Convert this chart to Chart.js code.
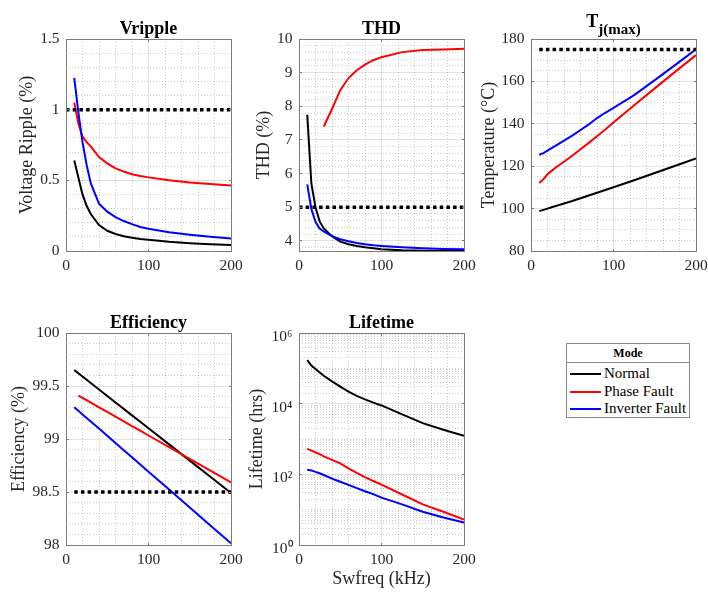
<!DOCTYPE html>
<html>
<head>
<meta charset="utf-8">
<title>Switching frequency study</title>
<script src="https://cdn.jsdelivr.net/npm/chart.js@4.4.1/dist/chart.umd.min.js"></script>
<style>
  html, body { margin: 0; padding: 0; background: #fff; overflow: hidden; }
  #page { position: relative; width: 708px; height: 592px; overflow: hidden; background: #fff; }
  #page canvas { position: absolute; }
  #legend {
    position: absolute; left: 566px; top: 343px; width: 122px; height: 73px;
    border: 1px solid #8a8a8a; background: #fff;
    font-family: 'Liberation Serif', 'Times New Roman', serif; color: #000;
  }
  #legend .head {
    height: 18px; line-height: 18px; text-align: center; font-weight: bold; font-size: 12px;
    border-bottom: 1px solid #8a8a8a;
  }
  #legend .items { padding-top: 2px; }
  #legend .item { height: 17.5px; line-height: 17.5px; font-size: 15px; white-space: nowrap; position: relative; padding-left: 37px; }
  #legend .swatch { position: absolute; left: 3px; top: 8px; width: 31px; height: 2px; }
</style>
</head>
<body>
<div id="page">
  <canvas id="cVripple"></canvas>
  <canvas id="cThd"></canvas>
  <canvas id="cTj"></canvas>
  <canvas id="cEff"></canvas>
  <canvas id="cLife"></canvas>
  <div id="legend"></div>
</div>
<script>
// ---- data ----
const swfreq = [10, 15, 20, 25, 30, 40, 50, 60, 70, 80, 90, 100, 125, 150, 175, 200];
const modes = ['Normal', 'Phase Fault', 'Inverter Fault'];
const modeColors = ['#000000', '#ff0000', '#0000ff'];

// Voltage ripple (%)
const vrippleNormal   = [0.64, 0.52, 0.40, 0.32, 0.262, 0.183, 0.143, 0.120, 0.104, 0.094, 0.085, 0.079, 0.065, 0.055, 0.048, 0.042];
const vripplePhase    = [1.05, 0.90, 0.81, 0.77, 0.74, 0.665, 0.62, 0.585, 0.562, 0.543, 0.530, 0.521, 0.500, 0.485, 0.474, 0.463];
const vrippleInverter = [1.225, 0.98, 0.77, 0.61, 0.48, 0.335, 0.278, 0.240, 0.212, 0.190, 0.170, 0.157, 0.132, 0.115, 0.101, 0.089];
const vrippleLimit = 1;

// THD (%)
const thdNormal   = [7.75, 5.70, 5.00, 4.58, 4.37, 4.14, 3.98, 3.90, 3.85, 3.81, 3.78, 3.75, 3.72, 3.71, 3.70, 3.70];
const thdPhase    = [null, null, null, null, 7.40, 7.92, 8.48, 8.84, 9.07, 9.24, 9.37, 9.46, 9.61, 9.67, 9.69, 9.71];
const thdInverter = [5.68, 4.95, 4.57, 4.37, 4.28, 4.14, 4.05, 3.99, 3.94, 3.90, 3.87, 3.85, 3.81, 3.78, 3.76, 3.75];
const thdLimit = 5;

// Maximum junction temperature (°C)
const tjNormal   = [98.8, 99.4, 100.0, 100.6, 101.2, 102.4, 103.6, 104.9, 106.2, 107.5, 108.8, 110.1, 113.4, 116.8, 120.2, 123.7];
const tjPhase    = [112.1, 113.8, 116.2, 117.8, 119.4, 122.1, 124.9, 128.0, 131.0, 134.1, 137.3, 140.6, 148.7, 156.7, 164.6, 172.4];
const tjInverter = [125.4, 126.2, 127.3, 128.5, 129.7, 132.1, 134.4, 137.1, 139.7, 142.7, 145.2, 147.5, 153.5, 160.6, 167.8, 175.2];
const tjLimit = 175;

// Efficiency (%)
const effNormal   = [99.650, 99.620, 99.589, 99.559, 99.528, 99.467, 99.406, 99.345, 99.284, 99.223, 99.162, 99.101, 98.949, 98.796, 98.644, 98.491];
const effPhase    = [null, 99.410, 99.388, 99.366, 99.344, 99.299, 99.255, 99.211, 99.166, 99.122, 99.078, 99.033, 98.923, 98.812, 98.701, 98.590];
const effInverter = [99.300, 99.266, 99.232, 99.199, 99.165, 99.098, 99.030, 98.962, 98.894, 98.827, 98.759, 98.692, 98.523, 98.354, 98.185, 98.016];
const effLimit = 98.5;

// Lifetime (hrs)
const lifeNormal   = [170000, 120000, 95500, 75900, 61700, 42700, 30200, 21900, 16600, 13200, 10700, 8900, 5000, 2820, 1820, 1230];
const lifePhase    = [525, 468, 417, 372, 324, 257, 204, 148, 110, 83, 64.6, 51.3, 26.9, 14.1, 8.7, 5.25];
const lifeInverter = [135, 129, 117, 107, 95.5, 75.9, 61.7, 50.1, 40.7, 33.1, 27.5, 21.9, 14.1, 8.7, 6.0, 4.3];

// axis ticks
const freqTicks = [0, 100, 200];
const vrippleTicks = [0, 0.5, 1, 1.5];
const thdTicks = [4, 5, 6, 7, 8, 9, 10];
const tjTicks = [80, 100, 120, 140, 160, 180];
const effTicks = [98, 98.5, 99, 99.5, 100];
const lifeTicks = [1, 100, 10000, 1000000];
const lifeTickLabels = ['10\u2070', '10\u00B2', '10\u2074', '10\u2076'];

// ---- drawing ----
const FAMILY = "'Liberation Serif', 'Times New Roman', serif";
const AXIS_COLOR = '#262626';
const BOX_COLOR = '#7d7d7d';
const MAJOR_GRID = 'rgba(0,0,0,0.11)';
const MINOR_GRID = 'rgba(0,0,0,0.2)';
const AXIS_W = 60, TOP_PAD = 39, RIGHT_PAD = 20, PLOT_W = 165, PLOT_H = 212, X_AXIS_H = 45;

function steps(from, to, step) {
  const out = [];
  for (let v = from; v <= to + 1e-9; v += step) out.push(+v.toFixed(6));
  return out;
}
function logMinors(maxExp) {
  const out = [];
  for (let e = 0; e < maxExp; e++) {
    for (let m = 2; m <= 9; m++) out.push(m * Math.pow(10, e));
    if (e % 2 === 1) out.push(Math.pow(10, e));
  }
  return out;
}
const align = p => Math.round(p - 0.5) + 0.5;

// minor dotted grid, inward tick marks and the axes box
const framePlugin = {
  id: 'frame',
  beforeDatasetsDraw(chart, args, o) {
    const { ctx, chartArea: a, scales: { x, y } } = chart;
    ctx.save();
    ctx.strokeStyle = MINOR_GRID;
    ctx.lineWidth = 1;
    ctx.setLineDash([1, 2]);
    ctx.beginPath();
    o.xMinor.forEach(v => {
      if (o.xMajor.includes(v)) return;
      const px = align(x.getPixelForValue(v));
      ctx.moveTo(px, a.top); ctx.lineTo(px, a.bottom);
    });
    o.yMinor.forEach(v => {
      if (o.yMajor.includes(v)) return;
      const py = align(y.getPixelForValue(v));
      if (py <= a.top + 1 || py >= a.bottom - 1) return;
      ctx.moveTo(a.left, py); ctx.lineTo(a.right, py);
    });
    ctx.stroke();
    ctx.restore();
  },
  afterDatasetsDraw(chart, args, o) {
    const { ctx, chartArea: a, scales: { x, y } } = chart;
    const L = align(a.left), R = align(a.right), T = align(a.top), B = align(a.bottom);
    ctx.save();
    ctx.strokeStyle = BOX_COLOR;
    ctx.lineWidth = 1;
    ctx.beginPath();
    const tl = 2.5;
    o.xMajor.forEach(v => {
      const px = align(x.getPixelForValue(v));
      ctx.moveTo(px, B); ctx.lineTo(px, B - tl);
      ctx.moveTo(px, T); ctx.lineTo(px, T + tl);
    });
    o.yMajor.forEach(v => {
      const py = align(y.getPixelForValue(v));
      ctx.moveTo(L, py); ctx.lineTo(L + tl, py);
      ctx.moveTo(R, py); ctx.lineTo(R - tl, py);
    });
    ctx.stroke();
    ctx.strokeRect(L, T, R - L, B - T);
    ctx.restore();
  }
};

// bold panel heading, optional subscript
const headingPlugin = {
  id: 'heading',
  afterDraw(chart, args, o) {
    const { ctx, chartArea: a } = chart;
    const cx = (a.left + a.right) / 2;
    ctx.save();
    ctx.fillStyle = '#000';
    ctx.textBaseline = 'alphabetic';
    if (o.sub) {
      ctx.font = 'bold 18px ' + FAMILY;
      const w1 = ctx.measureText(o.text).width;
      ctx.font = 'bold 15px ' + FAMILY;
      const w2 = ctx.measureText(o.sub).width;
      const x0 = cx - (w1 + w2) / 2;
      ctx.textAlign = 'left';
      ctx.font = 'bold 18px ' + FAMILY;
      ctx.fillText(o.text, x0, a.top - 12.5);
      ctx.font = 'bold 15px ' + FAMILY;
      ctx.fillText(o.sub, x0 + w1, a.top - 5.5);
    } else {
      ctx.textAlign = 'center';
      ctx.font = 'bold 18px ' + FAMILY;
      ctx.fillText(o.text, cx, a.top - 5);
    }
    ctx.restore();
  }
};

function panel(id, cfg) {
  const canvas = document.getElementById(id);
  const W = AXIS_W + PLOT_W + RIGHT_PAD;
  const H = TOP_PAD + PLOT_H + X_AXIS_H;
  canvas.width = W;
  canvas.height = H;
  canvas.style.left = (cfg.plotLeft - AXIS_W) + 'px';
  canvas.style.top = (cfg.plotTop - TOP_PAD) + 'px';

  const datasets = cfg.series.map((vals, i) => ({
    label: modes[i],
    data: swfreq.map((f, k) => ({ x: f, y: vals[k] })),
    borderColor: modeColors[i],
    borderWidth: 2,
    pointRadius: 0,
    tension: 0,
    fill: false,
    spanGaps: false,
    order: 4 - i
  }));
  if (cfg.limit !== undefined) {
    datasets.push({
      label: 'Limit',
      data: cfg.limitSpan.map(f => ({ x: f, y: cfg.limit })),
      borderColor: '#000',
      borderWidth: 3.5,
      borderDash: [3.5, 3.2],
      borderCapStyle: 'butt',
      pointRadius: 0,
      fill: false,
      order: 0
    });
  }

  const tickFont = { family: FAMILY, size: 15.5 };
  const yScale = {
    type: cfg.yType || 'linear',
    min: cfg.yMin,
    max: cfg.yMax,
    afterBuildTicks: s => { s.ticks = cfg.yTicks.map(v => ({ value: v, major: true })); },
    afterFit: s => { s.width = AXIS_W; },
    grid: { color: MAJOR_GRID, lineWidth: 1, drawTicks: false },
    border: { display: false },
    ticks: {
      font: tickFont, color: AXIS_COLOR, padding: 6.5, autoSkip: false,
      labelOffset: cfg.yLabelOffset || 0,
      callback: cfg.yLabels ? ((v, i) => cfg.yLabels[i]) : (v => String(v))
    },
    title: {
      display: true, text: cfg.yTitle, color: AXIS_COLOR,
      font: { family: FAMILY, size: 18 },
      padding: { top: cfg.yTitlePad, bottom: 0 }
    }
  };
  const xScale = {
    type: 'linear',
    min: 0,
    max: 200,
    afterBuildTicks: s => { s.ticks = freqTicks.map(v => ({ value: v, major: true })); },
    afterFit: s => { s.height = X_AXIS_H; },
    grid: { color: MAJOR_GRID, lineWidth: 1, drawTicks: false },
    border: { display: false },
    ticks: { font: tickFont, color: AXIS_COLOR, padding: 5.7, autoSkip: false, maxRotation: 0, callback: v => String(v) },
    title: {
      display: !!cfg.xTitle, text: cfg.xTitle || '', color: AXIS_COLOR,
      font: { family: FAMILY, size: 18 },
      padding: { top: 0, bottom: 0 }
    }
  };

  return new Chart(canvas, {
    type: 'line',
    data: { datasets },
    options: {
      responsive: false,
      animation: false,
      events: [],
      layout: { padding: { top: TOP_PAD, right: RIGHT_PAD, left: 0, bottom: 0 } },
      scales: { x: xScale, y: yScale },
      plugins: {
        legend: { display: false },
        tooltip: { enabled: false },
        title: { display: false },
        frame: { xMajor: freqTicks, xMinor: steps(0, 200, 20), yMajor: cfg.yTicks, yMinor: cfg.yMinor },
        heading: { text: cfg.title, sub: cfg.titleSub }
      }
    },
    plugins: [framePlugin, headingPlugin]
  });
}

const COL = [66, 299, 531];
const ROW = [39, 333];

panel('cVripple', {
  plotLeft: COL[0], plotTop: ROW[0], title: 'Vripple',
  yTitle: 'Voltage Ripple (%)', yTitlePad: 10.7,
  yMin: 0, yMax: 1.5, yTicks: vrippleTicks, yMinor: steps(0, 1.5, 0.1),
  series: [vrippleNormal, vripplePhase, vrippleInverter],
  limit: vrippleLimit, limitSpan: [0, 200]
});
panel('cThd', {
  plotLeft: COL[1], plotTop: ROW[0], title: 'THD',
  yTitle: 'THD (%)', yTitlePad: 14.5,
  yMin: 3.7, yMax: 10, yTicks: thdTicks, yMinor: steps(3.8, 10, 0.2),
  series: [thdNormal, thdPhase, thdInverter],
  limit: thdLimit, limitSpan: [0, 200]
});
panel('cTj', {
  plotLeft: COL[2], plotTop: ROW[0], title: 'T', titleSub: 'j(max)',
  yTitle: 'Temperature (\u00B0C)', yTitlePad: 7.5,
  yMin: 80, yMax: 180, yTicks: tjTicks, yMinor: steps(80, 180, 5),
  series: [tjNormal, tjPhase, tjInverter],
  limit: tjLimit, limitSpan: [10, 200]
});
panel('cEff', {
  plotLeft: COL[0], plotTop: ROW[1], title: 'Efficiency',
  yTitle: 'Efficiency (%)', yTitlePad: 2.2,
  yMin: 98, yMax: 100, yTicks: effTicks, yMinor: steps(98, 100, 0.1),
  series: [effNormal, effPhase, effInverter],
  limit: effLimit, limitSpan: [10, 200]
});
panel('cLife', {
  plotLeft: COL[1], plotTop: ROW[1], title: 'Lifetime',
  yTitle: 'Lifetime (hrs)', yTitlePad: 7,
  yType: 'logarithmic', yMin: 1, yMax: 1000000, yTicks: lifeTicks, yLabels: lifeTickLabels,
  yLabelOffset: 4, yMinor: logMinors(6),
  xTitle: 'Swfreq (kHz)',
  series: [lifeNormal, lifePhase, lifeInverter]
});

// legend box
const legend = document.getElementById('legend');
const head = document.createElement('div');
head.className = 'head';
head.textContent = 'Mode';
legend.appendChild(head);
const items = document.createElement('div');
items.className = 'items';
modes.forEach((name, i) => {
  const row = document.createElement('div');
  row.className = 'item';
  const sw = document.createElement('span');
  sw.className = 'swatch';
  sw.style.background = modeColors[i];
  row.appendChild(sw);
  row.appendChild(document.createTextNode(name));
  items.appendChild(row);
});
legend.appendChild(items);
</script>
</body>
</html>
